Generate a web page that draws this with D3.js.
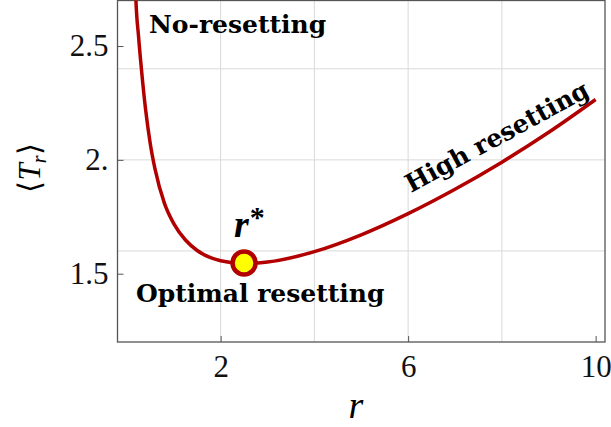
<!DOCTYPE html>
<html>
<head>
<meta charset="utf-8">
<script src="https://cdn.jsdelivr.net/npm/d3@7"></script>
<style>
  body { margin: 0; background: #fff; }
  svg { display: block; }
</style>
</head>
<body>
<script>
// mean completion time <T_r> vs resetting rate r
const rValues = [0.1, 0.15, 0.19, 0.25, 0.31, 0.4, 0.5, 0.6, 0.8, 1.0, 1.25, 1.5, 2.0, 2.5, 3.0, 4.0, 5.0, 6.0, 7.0, 8.0, 9.0, 10.0];
const tValues = [3.6, 3.05, 2.72, 2.54, 2.4, 2.22, 2.07, 1.96, 1.81, 1.72, 1.648, 1.602, 1.557, 1.545, 1.551, 1.597, 1.671, 1.764, 1.871, 1.99, 2.121, 2.265];
const optimum = [2.5, 1.547];

const xTicks = [2, 6, 10];
const xGrid = [2, 4, 6, 8];
const yTicks = [1.5, 2.0, 2.5];
const yTickLabels = ["1.5", "2.", "2.5"];
const yGrid = [1.6, 2.0, 2.4];

const w = 611, h = 427;
const plotL = 117.5, plotR = 605, plotT = 0.5, plotB = 342;

const x = d3.scaleLinear().domain([-0.2, 10.2]).range([plotL, plotR]);
const y = d3.scaleLinear().domain([1.2, 2.7]).range([plotB, plotT]);

const svg = d3.select("body").append("svg")
  .attr("width", w)
  .attr("height", h);

svg.append("defs").append("clipPath")
  .attr("id", "clip")
  .append("rect")
  .attr("x", plotL).attr("y", plotT)
  .attr("width", plotR - plotL).attr("height", plotB - plotT);

// grid
svg.append("g").selectAll("line")
  .data(xGrid).enter().append("line")
  .attr("x1", d => x(d)).attr("x2", d => x(d))
  .attr("y1", plotT).attr("y2", plotB)
  .attr("stroke", "#d9d9d9").attr("stroke-width", 1);

svg.append("g").selectAll("line")
  .data(yGrid).enter().append("line")
  .attr("x1", plotL).attr("x2", plotR)
  .attr("y1", d => y(d)).attr("y2", d => y(d))
  .attr("stroke", "#d9d9d9").attr("stroke-width", 1);

// axes with inward ticks
const xAxis = d3.axisBottom(x).tickValues(xTicks).tickSize(-6).tickPadding(13).tickFormat(d3.format("d"));
const yAxis = d3.axisLeft(y).tickValues(yTicks).tickSize(-6).tickPadding(9).tickFormat((d, i) => yTickLabels[i]);

const gx = svg.append("g")
  .attr("transform", "translate(0," + plotB + ")")
  .call(xAxis);
const gy = svg.append("g")
  .attr("transform", "translate(" + plotL + ",0)")
  .call(yAxis);

[gx, gy].forEach(g => {
  g.select(".domain").remove();
  g.selectAll(".tick line").attr("stroke", "#555");
  g.selectAll("text")
    .attr("font-family", "Liberation Serif")
    .attr("font-size", 31)
    .attr("fill", "#111");
});
gx.selectAll("text").attr("dy", "0.71em");

// frame
svg.append("rect")
  .attr("x", plotL).attr("y", plotT)
  .attr("width", plotR - plotL).attr("height", plotB - plotT)
  .attr("fill", "none")
  .attr("stroke", "#555")
  .attr("stroke-width", 1.3);

// curve
const line = d3.line()
  .x((d, i) => x(rValues[i]))
  .y(d => y(d))
  .curve(d3.curveMonotoneX);

svg.append("path")
  .datum(tValues)
  .attr("clip-path", "url(#clip)")
  .attr("d", line)
  .attr("fill", "none")
  .attr("stroke", "#b20000")
  .attr("stroke-width", 3.5);

// optimal point
svg.append("circle")
  .attr("cx", x(optimum[0]))
  .attr("cy", y(optimum[1]))
  .attr("r", 11.5)
  .attr("fill", "#ffff00")
  .attr("stroke", "#b20000")
  .attr("stroke-width", 4.5);

const rs = svg.append("text")
  .attr("x", 234)
  .attr("y", 237)
  .attr("font-family", "Liberation Serif")
  .attr("font-style", "italic")
  .attr("font-weight", "bold")
  .attr("font-size", 38);
rs.append("tspan").text("r");
rs.append("tspan").attr("font-style", "normal").attr("font-size", 30).attr("dy", -10).attr("dx", 1).text("*");

// annotations
const note = (t, xx, yy, rot) => svg.append("text")
  .attr("transform", "translate(" + xx + "," + yy + ") rotate(" + rot + ")")
  .attr("font-family", "DejaVu Serif")
  .attr("font-weight", "bold")
  .attr("font-size", 25)
  .attr("fill", "#000")
  .text(t);

note("No-resetting", 149, 33, 0);
note("Optimal resetting", 136, 302, 0);
note("High resetting", 411, 193, -28.5);

// axis titles
svg.append("text")
  .attr("x", 356).attr("y", 418)
  .attr("text-anchor", "middle")
  .attr("font-family", "Liberation Serif")
  .attr("font-style", "italic")
  .attr("font-size", 38)
  .text("r");

const yl = svg.append("text")
  .attr("transform", "translate(40,168) rotate(-90)")
  .attr("text-anchor", "middle")
  .attr("font-family", "Liberation Serif")
  .attr("font-size", 31);
yl.append("tspan").text("\u27E8");
yl.append("tspan").attr("font-style", "italic").text("T");
yl.append("tspan").attr("font-style", "italic").attr("font-size", 20).attr("dy", 6).text("r");
yl.append("tspan").attr("dy", -6).text("\u27E9");
</script>
</body>
</html>
